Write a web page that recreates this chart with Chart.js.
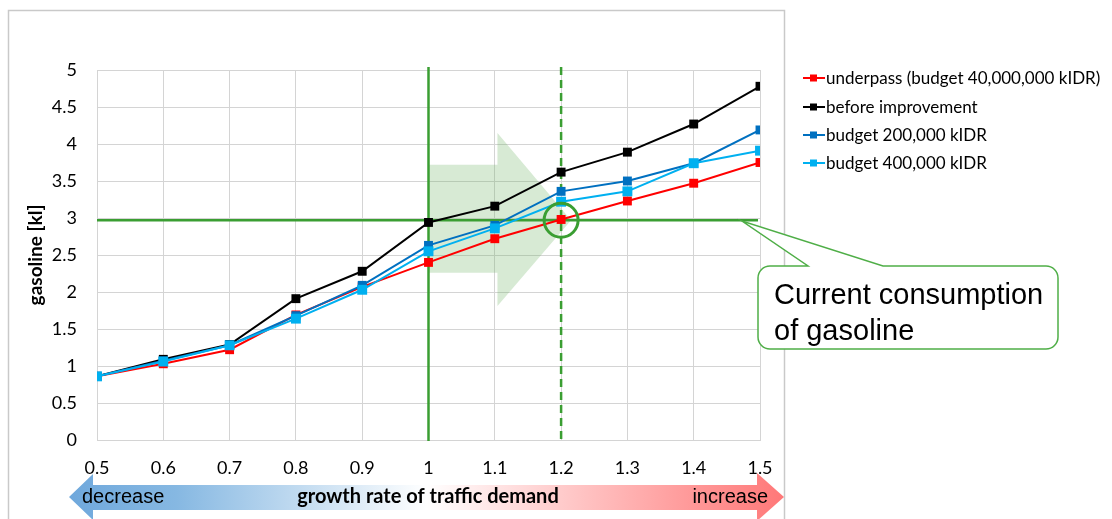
<!DOCTYPE html>
<html>
<head>
<meta charset="utf-8">
<script src="https://cdn.jsdelivr.net/npm/chart.js@4.4.1/dist/chart.umd.min.js"></script>
<style>
  html, body { margin: 0; padding: 0; background: #fff; }
  #wrap { width: 1112px; height: 519px; }
</style>
</head>
<body>
<div id="wrap"><canvas id="gasChart" width="1112" height="519"></canvas></div>
<script>
// growth rate of traffic demand (x axis)
const growthRates = [0.5, 0.6, 0.7, 0.8, 0.9, 1.0, 1.1, 1.2, 1.3, 1.4, 1.5];

// gasoline consumption [kl]
const underpass = [0.86, 1.03, 1.22, 1.69, 2.07, 2.40, 2.72, 2.98, 3.23, 3.47, 3.75];
const beforeImprovement = [0.86, 1.09, 1.29, 1.91, 2.28, 2.94, 3.16, 3.62, 3.89, 4.27, 4.78];
const budget200k = [0.86, 1.07, 1.28, 1.68, 2.09, 2.63, 2.90, 3.36, 3.50, 3.74, 4.19];
const budget400k = [0.86, 1.06, 1.28, 1.64, 2.03, 2.55, 2.86, 3.22, 3.36, 3.74, 3.91];

const seriesLabels = [
  "underpass (budget 40,000,000 kIDR)",
  "before improvement",
  "budget 200,000 kIDR",
  "budget 400,000 kIDR",
];
const seriesColors = ["#ff0000", "#000000", "#0070c0", "#00b0f0"];

// reference marks
const currentConsumption = 2.97;
const baseRate = 1.0;
const targetRate = 1.2;

const GREEN = "#3a9e32";

function toPoints(values) {
  return values.map((v, i) => ({ x: growthRates[i], y: v }));
}

const allSeries = [underpass, beforeImprovement, budget200k, budget400k];
const drawOrder = [3, 2, 1, 0];

const datasets = allSeries.map((values, i) => ({
  label: seriesLabels[i],
  data: toPoints(values),
  borderColor: seriesColors[i],
  backgroundColor: seriesColors[i],
  borderWidth: 2,
  pointStyle: "rect",
  pointRadius: i === 3 ? 7 : 6.3,
  pointBorderWidth: 0,
  tension: 0,
  order: drawOrder[i],
}));

const decorPlugin = {
  id: "decor",
  beforeDraw(chart) {
    const ctx = chart.ctx;
    ctx.save();
    ctx.fillStyle = "#fff";
    ctx.fillRect(0, 0, chart.width, chart.height);
    // outer frame
    ctx.strokeStyle = "#c9c9c9";
    ctx.lineWidth = 1.5;
    ctx.beginPath();
    ctx.moveTo(8.5, 530);
    ctx.lineTo(8.5, 10.5);
    ctx.lineTo(784.5, 10.5);
    ctx.lineTo(784.5, 530);
    ctx.stroke();
    ctx.restore();
  },
  beforeDatasetsDraw(chart) {
    const ctx = chart.ctx;
    const xs = chart.scales.x;
    const ys = chart.scales.y;
    const area = chart.chartArea;
    ctx.save();

    // shaded green arrow from 1.0 towards 1.2
    const bx0 = xs.getPixelForValue(baseRate);
    const bx1 = xs.getPixelForValue(1.104);
    const tipX = xs.getPixelForValue(1.215);
    ctx.fillStyle = "rgba(112, 180, 100, 0.28)";
    ctx.beginPath();
    ctx.moveTo(bx0, ys.getPixelForValue(3.72));
    ctx.lineTo(bx1, ys.getPixelForValue(3.72));
    ctx.lineTo(bx1, ys.getPixelForValue(4.15));
    ctx.lineTo(tipX, ys.getPixelForValue(currentConsumption));
    ctx.lineTo(bx1, ys.getPixelForValue(1.81));
    ctx.lineTo(bx1, ys.getPixelForValue(2.26));
    ctx.lineTo(bx0, ys.getPixelForValue(2.26));
    ctx.closePath();
    ctx.fill();

    ctx.strokeStyle = GREEN;
    ctx.lineWidth = 2.5;
    // horizontal current consumption line
    const hy = ys.getPixelForValue(currentConsumption);
    ctx.beginPath();
    ctx.moveTo(area.left, hy);
    ctx.lineTo(area.right - 2, hy);
    ctx.stroke();

    // solid vertical at base rate
    const topY = ys.getPixelForValue(5.04);
    const botY = area.bottom + 1;
    ctx.beginPath();
    ctx.moveTo(bx0, topY);
    ctx.lineTo(bx0, botY);
    ctx.stroke();

    // dashed vertical at target rate
    const tx = xs.getPixelForValue(targetRate);
    ctx.setLineDash([8, 5]);
    ctx.beginPath();
    ctx.moveTo(tx, topY);
    ctx.lineTo(tx, botY);
    ctx.stroke();
    ctx.restore();
  },
  afterDraw(chart) {
    const ctx = chart.ctx;
    const xs = chart.scales.x;
    const ys = chart.scales.y;
    ctx.save();

    // circle marking current consumption at target rate
    ctx.strokeStyle = GREEN;
    ctx.lineWidth = 3;
    ctx.beginPath();
    ctx.arc(xs.getPixelForValue(targetRate), ys.getPixelForValue(currentConsumption), 17, 0, Math.PI * 2);
    ctx.stroke();

    // y axis title
    ctx.save();
    ctx.translate(36, 255);
    ctx.rotate(-Math.PI / 2);
    ctx.font = "bold 19px Lato";
    ctx.fillStyle = "#000";
    ctx.textAlign = "center";
    ctx.textBaseline = "middle";
    ctx.fillText("gasoline [kl]", 0, 0);
    ctx.restore();

    // legend
    const legY = [78, 107, 135, 163];
    chart.data.datasets.forEach((ds, i) => {
      const y = legY[i];
      ctx.strokeStyle = ds.borderColor;
      ctx.lineWidth = 2;
      ctx.beginPath();
      ctx.moveTo(803, y);
      ctx.lineTo(825, y);
      ctx.stroke();
      ctx.fillStyle = ds.backgroundColor;
      ctx.fillRect(810, y - 3.5, 7, 7);
      ctx.fillStyle = "#000";
      ctx.font = "17px Lato";
      ctx.textAlign = "left";
      ctx.textBaseline = "middle";
      ctx.fillText(ds.label, 826, y + 1);
    });

    // callout
    const L = 758, T = 266, R = 1058, B = 349, r = 12;
    ctx.beginPath();
    ctx.moveTo(L + r, T);
    ctx.lineTo(808, T);
    ctx.lineTo(742, 221);
    ctx.lineTo(883, T);
    ctx.lineTo(R - r, T);
    ctx.arcTo(R, T, R, T + r, r);
    ctx.lineTo(R, B - r);
    ctx.arcTo(R, B, R - r, B, r);
    ctx.lineTo(L + r, B);
    ctx.arcTo(L, B, L, B - r, r);
    ctx.lineTo(L, T + r);
    ctx.arcTo(L, T, L + r, T, r);
    ctx.closePath();
    ctx.fillStyle = "#fff";
    ctx.fill();
    ctx.strokeStyle = "#4fae47";
    ctx.lineWidth = 1.5;
    ctx.stroke();
    ctx.fillStyle = "#000";
    ctx.font = "29px 'Liberation Sans', Arial";
    ctx.textAlign = "left";
    ctx.textBaseline = "alphabetic";
    ctx.fillText("Current consumption", 774, 304);
    ctx.fillText("of gasoline", 774, 340);

    // bottom gradient double arrow
    const grad = ctx.createLinearGradient(69, 0, 784, 0);
    grad.addColorStop(0, "#6fa8dc");
    grad.addColorStop(0.15, "#86b8e2");
    grad.addColorStop(0.5, "#ffffff");
    grad.addColorStop(0.88, "#ff9696");
    grad.addColorStop(1, "#ff7878");
    ctx.fillStyle = grad;
    ctx.beginPath();
    ctx.moveTo(69, 497);
    ctx.lineTo(93, 474);
    ctx.lineTo(93, 485);
    ctx.lineTo(757, 485);
    ctx.lineTo(757, 473);
    ctx.lineTo(784, 497);
    ctx.lineTo(757, 521);
    ctx.lineTo(757, 510);
    ctx.lineTo(93, 510);
    ctx.lineTo(93, 520);
    ctx.closePath();
    ctx.fill();

    ctx.fillStyle = "#000";
    ctx.font = "20px 'Liberation Sans', Arial";
    ctx.textBaseline = "alphabetic";
    ctx.textAlign = "left";
    ctx.fillText("decrease", 82, 503);
    ctx.textAlign = "right";
    ctx.fillText("increase", 768, 503);
    ctx.font = "bold 20px Lato";
    ctx.textAlign = "center";
    ctx.fillText("growth rate of traffic demand", 428, 503);

    ctx.restore();
  },
};

new Chart(document.getElementById("gasChart"), {
  type: "line",
  data: { datasets },
  options: {
    responsive: false,
    animation: false,
    layout: { padding: { left: 0, top: 70, right: 352, bottom: 0 } },
    plugins: {
      legend: { display: false },
      tooltip: { enabled: false },
    },
    scales: {
      x: {
        type: "linear",
        min: 0.5,
        max: 1.5,
        afterFit(scale) { scale.height = 79; },
        grid: { color: "#d4d4d4", drawTicks: false },
        border: { color: "#d4d4d4" },
        ticks: {
          stepSize: 0.1,
          padding: 17,
          color: "#000",
          font: { family: "Lato", size: 18 },
          callback: (v) => String(Number(v.toFixed(1))),
        },
      },
      y: {
        min: 0,
        max: 5,
        afterFit(scale) { scale.width = 97; },
        grid: { color: "#d4d4d4", drawTicks: false },
        border: { color: "#d4d4d4" },
        ticks: {
          stepSize: 0.5,
          padding: 20,
          color: "#000",
          font: { family: "Lato", size: 18 },
          callback: (v) => String(Number(v.toFixed(1))),
        },
      },
    },
  },
  plugins: [decorPlugin],
});
</script>
</body>
</html>
